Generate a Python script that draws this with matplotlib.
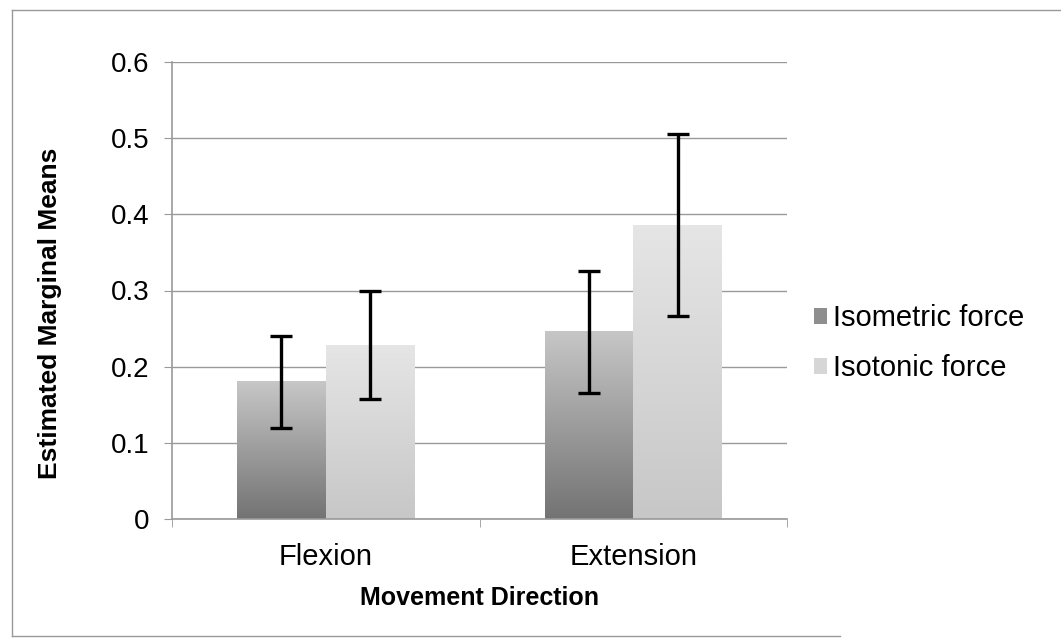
import numpy as np
import matplotlib.pyplot as plt
from matplotlib.lines import Line2D
from matplotlib.patches import Patch

plt.rcParams['font.family'] = ['Liberation Sans', 'DejaVu Sans']

# data
categories = ["Flexion", "Extension"]
series_names = ["Isometric force", "Isotonic force"]
isometric = [0.181, 0.247]
isotonic = [0.229, 0.386]
isometric_lo = [0.120, 0.166]
isometric_hi = [0.240, 0.325]
isotonic_lo = [0.158, 0.266]
isotonic_hi = [0.299, 0.505]
yticks = [0, 0.1, 0.2, 0.3, 0.4, 0.5, 0.6]

fig = plt.figure(figsize=(10.61, 6.42), dpi=100)
ax = fig.add_axes([172 / 1061, 1 - 519 / 642, 615 / 1061, 457 / 642])

x = np.arange(len(categories))
width = 0.288
grad = np.linspace(0, 1, 256).reshape(-1, 1)


def gradient_bars(xpos, heights, col_lo, col_hi):
    bars = ax.bar(xpos, heights, width, color="none", edgecolor="none", zorder=2)
    for b in bars:
        x0, w, h = b.get_x(), b.get_width(), b.get_height()
        lo = np.array(col_lo)
        hi = np.array(col_hi)
        img = lo + (hi - lo) * grad[..., None]
        im = ax.imshow(img, extent=[x0, x0 + w, 0, h], origin="lower",
                       aspect="auto", zorder=2)
        im.set_clip_path(b)
    return bars


gradient_bars(x - width / 2, isometric, (0.45, 0.45, 0.45), (0.78, 0.78, 0.78))
gradient_bars(x + width / 2, isotonic, (0.78, 0.78, 0.78), (0.90, 0.90, 0.90))

for xs, lo, hi, v in [(x - width / 2, isometric_lo, isometric_hi, isometric),
                      (x + width / 2, isotonic_lo, isotonic_hi, isotonic)]:
    ax.errorbar(xs, v, yerr=[np.array(v) - np.array(lo), np.array(hi) - np.array(v)],
                fmt="none", ecolor="black", elinewidth=2.4, capsize=8,
                capthick=2.4, zorder=4)

ax.set_xlim(-0.5, 1.5)
ax.set_ylim(0, 0.6)
ax.set_yticks(yticks)
ax.set_yticklabels(["0" if t == 0 else f"{t:.1f}" for t in yticks], fontsize=20)
ax.set_xticks(x)
ax.set_xticklabels(categories, fontsize=21)
ax.set_xticks([-0.5, 0.5, 1.5], minor=True)
ax.tick_params(axis="x", which="major", length=0, pad=17)
ax.tick_params(axis="x", which="minor", length=6, color="#999999")
ax.tick_params(axis="y", length=6, color="#999999", pad=10)
ax.yaxis.grid(True, color="#9a9a9a", linewidth=1.0)
ax.set_axisbelow(True)
for side in ["top", "right"]:
    ax.spines[side].set_visible(False)
for side in ["left", "bottom"]:
    ax.spines[side].set_color("#999999")
    ax.spines[side].set_linewidth(1.2)

ax.set_xlabel("Movement Direction", fontsize=18, fontweight="bold", labelpad=11)
ax.set_ylabel("Estimated Marginal Means", fontsize=19, fontweight="bold")
ax.yaxis.set_label_coords(-110 / 615, 0.45)

handles = [Patch(facecolor="#8e8e8e", edgecolor="none"),
           Patch(facecolor="#d6d6d6", edgecolor="none")]
fig.legend(handles, series_names, loc="upper left",
           bbox_to_anchor=(788 / 1061, 1 - 278 / 642), frameon=False,
           fontsize=21, handlelength=0.45, handleheight=0.45, handletextpad=0.2,
           labelspacing=0.75)

# scanned border around the chart
for xs, ys in [([12, 1061], [10, 10]), ([12, 12], [10, 636]), ([12, 840], [636, 636])]:
    fig.add_artist(Line2D([v / 1061 for v in xs], [1 - v / 642 for v in ys],
                          color="#999999", linewidth=1.0))

fig.savefig("out.png", dpi=100)
